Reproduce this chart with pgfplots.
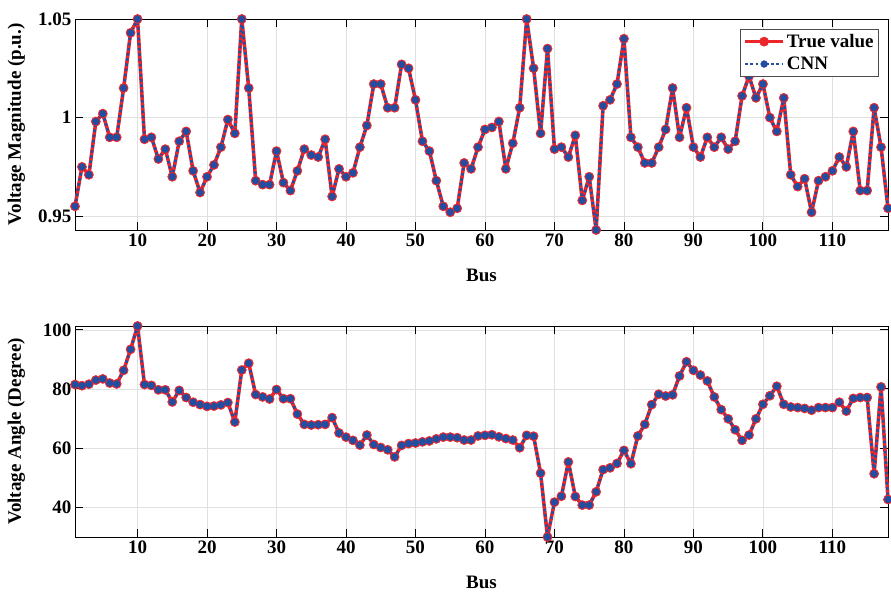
\documentclass[border=0pt]{standalone}
\usepackage{fontspec}
\setmainfont{Liberation Serif}
\usepackage{pgfplots}
\usepackage{pgfplotstable}
\pgfplotsset{compat=1.18}

\definecolor{trueRed}{RGB}{236,38,43}
\definecolor{cnnBlue}{RGB}{33,78,160}

% bus, voltage magnitude (p.u.)
\pgfplotstableread{
bus vm
1 0.955
2 0.975
3 0.971
4 0.998
5 1.002
6 0.990
7 0.990
8 1.015
9 1.043
10 1.050
11 0.989
12 0.990
13 0.979
14 0.984
15 0.970
16 0.988
17 0.993
18 0.973
19 0.962
20 0.970
21 0.976
22 0.985
23 0.999
24 0.992
25 1.050
26 1.015
27 0.968
28 0.966
29 0.966
30 0.983
31 0.967
32 0.963
33 0.973
34 0.984
35 0.981
36 0.980
37 0.989
38 0.960
39 0.974
40 0.970
41 0.972
42 0.985
43 0.996
44 1.017
45 1.017
46 1.005
47 1.005
48 1.027
49 1.025
50 1.009
51 0.988
52 0.983
53 0.968
54 0.955
55 0.952
56 0.954
57 0.977
58 0.974
59 0.985
60 0.994
61 0.995
62 0.998
63 0.974
64 0.987
65 1.005
66 1.050
67 1.025
68 0.992
69 1.035
70 0.984
71 0.985
72 0.980
73 0.991
74 0.958
75 0.970
76 0.943
77 1.006
78 1.009
79 1.017
80 1.040
81 0.990
82 0.985
83 0.977
84 0.977
85 0.985
86 0.994
87 1.015
88 0.990
89 1.005
90 0.985
91 0.980
92 0.990
93 0.985
94 0.990
95 0.984
96 0.988
97 1.011
98 1.021
99 1.010
100 1.017
101 1.000
102 0.993
103 1.010
104 0.971
105 0.965
106 0.969
107 0.952
108 0.968
109 0.970
110 0.973
111 0.980
112 0.975
113 0.993
114 0.963
115 0.963
116 1.005
117 0.985
118 0.954
}\vmtable

% bus, voltage angle (degree)
\pgfplotstableread{
bus va
1 81.5
2 81.1
3 81.6
4 83.0
5 83.4
6 82.0
7 81.7
8 86.3
9 93.4
10 101.3
11 81.5
12 81.2
13 79.7
14 79.7
15 75.6
16 79.5
17 77.1
18 75.5
19 74.7
20 74.1
21 74.2
22 74.6
23 75.4
24 68.8
25 86.4
26 88.7
27 78.1
28 77.3
29 76.6
30 79.8
31 76.7
32 76.7
33 71.5
34 68.0
35 67.8
36 67.9
37 68.0
38 70.3
39 65.1
40 63.7
41 62.6
42 61.0
43 64.4
44 61.2
45 60.2
46 59.4
47 57.0
48 60.9
49 61.5
50 61.7
51 62.1
52 62.4
53 63.1
54 63.7
55 63.7
56 63.5
57 62.7
58 62.7
59 64.1
60 64.3
61 64.5
62 63.8
63 63.2
64 62.7
65 60.1
66 64.3
67 64.0
68 51.5
69 29.9
70 41.7
71 43.7
72 55.3
73 43.6
74 40.7
75 40.7
76 45.2
77 52.7
78 53.3
79 54.8
80 59.2
81 54.7
82 64.1
83 68.0
84 74.7
85 78.2
86 77.6
87 78.0
88 84.4
89 89.2
90 86.3
91 84.7
92 82.7
93 77.3
94 73.0
95 69.9
96 66.2
97 62.6
98 64.4
99 69.9
100 74.8
101 77.7
102 80.9
103 74.8
104 73.9
105 73.7
106 73.4
107 72.8
108 73.7
109 73.7
110 73.7
111 75.5
112 72.5
113 76.8
114 77.1
115 77.1
116 51.3
117 80.7
118 42.6
}\vatable

\pgfplotsset{
  panel/.style={
    width=813pt, height=211pt, scale only axis,
    xmin=1, xmax=118,
    xtick={10,20,...,110},
    clip=false,
    grid=major,
    major grid style={line width=0.5pt, draw=black!12},
    axis line style={line width=0.9pt},
    major tick length=8pt,
    tick style={line width=0.9pt, black},
    /pgf/number format/assume math mode=true,
    tick label style={font=\bfseries\fontsize{19}{22}\selectfont},
    label style={font=\bfseries\fontsize{19}{22}\selectfont},
    xlabel={Bus},
    xlabel style={at={(axis description cs:0.5,-0.215)}, anchor=center},
    ylabel style={at={(axis description cs:-0.072,0.5)}, anchor=center},
  },
  truestyle/.style={trueRed, line width=3.6pt, line join=round, mark=*, mark size=4.6pt,
    mark options={solid, fill=trueRed, draw=trueRed, line width=0.5pt}},
  cnnstyle/.style={cnnBlue, line width=2.6pt, line join=round, dash pattern=on 2.6pt off 2.6pt,
    mark=*, mark size=3.5pt,
    mark options={solid, fill=cnnBlue, draw=cnnBlue, line width=0.3pt}},
}

\begin{document}
\begin{tikzpicture}
\useasboundingbox (0pt,0pt) rectangle (891pt,594pt);

\begin{axis}[panel,
  at={(75pt,364pt)}, anchor=south west,
  ymin=0.943, ymax=1.05,
  ytick={0.95,1,1.05},
  yticklabels={0.95,1,1.05},
  ylabel={Voltage Magnitude (p.u.)},
  legend style={at={(0.989,0.953)}, anchor=north east,
    font=\bfseries\fontsize{19}{22}\selectfont,
    draw=black!70, line width=0.8pt, fill=white,
    inner xsep=3pt, inner ysep=3pt, row sep=4pt,
    cells={anchor=west}},
  legend image code/.code={
    \draw[mark repeat=2, mark phase=2] plot coordinates {(0pt,0pt) (19pt,0pt) (38pt,0pt)};
  },
]
\addplot[truestyle] table[x=bus, y=vm] {\vmtable};
\addlegendentry{True value}
\addplot[cnnstyle] table[x=bus, y=vm] {\vmtable};
\addlegendentry{CNN}
\end{axis}

\begin{axis}[panel,
  at={(75pt,57pt)}, anchor=south west,
  ymin=29.9, ymax=101.3,
  ytick={40,60,80,100},
  ylabel={Voltage Angle (Degree)},
]
\addplot[truestyle] table[x=bus, y=va] {\vatable};
\addplot[cnnstyle] table[x=bus, y=va] {\vatable};
\end{axis}
\end{tikzpicture}
\end{document}
